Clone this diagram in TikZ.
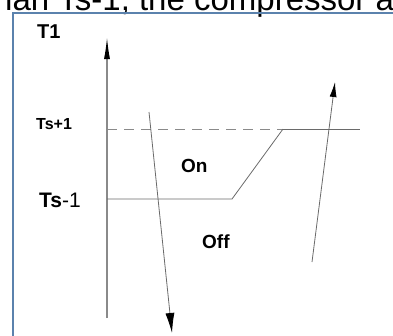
\documentclass[tikz,border=0pt]{standalone}
\usepackage{fontspec}
\setmainfont{Liberation Sans}
\usetikzlibrary{arrows.meta}
\definecolor{framec}{HTML}{5B82AD}
\definecolor{axisc}{HTML}{8A8A8A}
\definecolor{linec}{HTML}{6A6A6A}
\tikzset{
  lbl/.style={inner sep=0pt, anchor=base west, text=black},
  axisline/.style={draw=axisc, line width=1.3pt, -{Latex[length=22pt,width=6pt,color=black]}},
  curve/.style={draw=linec, line width=0.8pt},
  dashline/.style={draw=axisc, line width=0.8pt, dash pattern=on 10pt off 7pt},
  travel/.style={draw=linec, line width=0.8pt},
}
\begin{document}
\begin{tikzpicture}[x=1pt,y=-1pt]
\useasboundingbox (0,0) rectangle (393,335);
\clip (0,0) rectangle (393,335);
% cut-off caption text above
\node[lbl] (cap) at (-6,10) {\fontsize{33}{38}\selectfont han Ts-1, the compressor a};
% frame
\draw[framec, line width=2pt] (12.5,345) -- (12.5,12.5) -- (400,12.5);
% labels
\node[lbl] (t1) at (37,38) {\fontsize{20}{22}\selectfont\bfseries T1};
\node[lbl] (tsp) at (36,129.5) {\fontsize{16}{18}\selectfont\bfseries Ts+1};
\node[lbl] (tsm) at (39,207) {\fontsize{21}{23}\selectfont\textbf{Ts}-1};
\node[lbl] (on) at (181,172) {\fontsize{19}{21}\selectfont\bfseries On};
\node[lbl] (off) at (202,248) {\fontsize{19}{21}\selectfont\bfseries Off};
% axis
\coordinate (axb) at (107,318);
\coordinate (axt) at (107,37);
\draw[axisline] (axb) -- (axt);
% thresholds
\coordinate (hiA) at (107,129);
\coordinate (hiB) at (283,129);
\coordinate (hiC) at (360,129);
\coordinate (loA) at (107,199);
\coordinate (loB) at (232,199);
\draw[dashline] (hiA) -- (hiB);
\draw[curve] (hiB) -- (hiC);
\draw[curve] (loA) -- (loB) -- (hiB);
% falling temperature arrow
\coordinate (dnS) at (149,112);
\coordinate (dnE) at (172,333);
\draw[travel, -{Latex[length=20pt,width=9pt,color=black]}] (dnS) -- (dnE);
% rising temperature arrow
\coordinate (upS) at (312,262);
\coordinate (upE) at (335,82);
\draw[travel, -{Latex[length=15pt,width=7pt,color=black]}] (upS) -- (upE);
\end{tikzpicture}
\end{document}
